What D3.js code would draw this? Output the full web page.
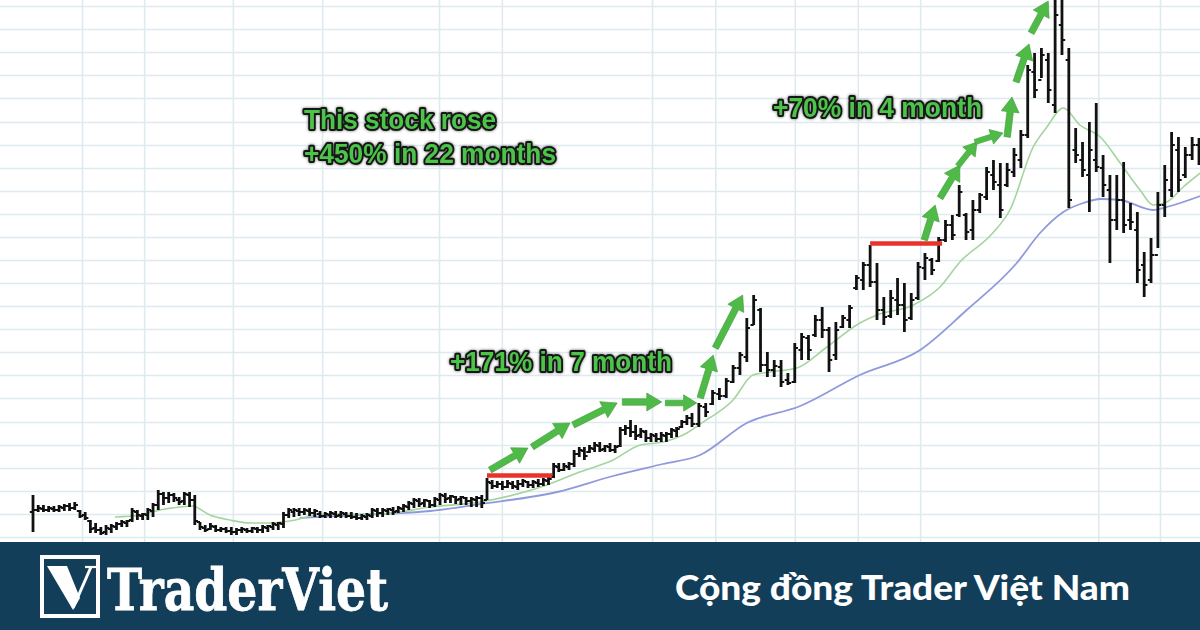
<!DOCTYPE html>
<html><head><meta charset="utf-8">
<script src="https://cdn.jsdelivr.net/npm/d3@7"></script>
<style>html,body{margin:0;padding:0;background:#fff;}svg{display:block}</style>
</head><body><svg id="c" width="1200" height="630"></svg>
<script>
// ---- DATA (weekly OHLC bars) ----
const highs = [14.5,13.5,13.5,13.4,13.4,13.5,13.6,13.7,13.8,13.0,12.8,12.0,11.7,11.3,11.5,11.6,11.8,12.0,12.0,13.2,
13.0,12.7,13.2,13.7,15.0,14.8,14.8,14.7,14.3,14.8,14.8,14.5,11.8,11.5,11.7,11.5,11.3,11.3,11.3,11.2,
11.3,11.2,11.3,11.3,11.5,11.5,11.8,11.8,12.8,13.2,13.2,13.2,13.2,13.2,13.1,12.9,12.8,12.9,12.9,12.9,
12.8,12.8,12.7,12.6,12.7,13.2,13.2,13.2,13.2,13.3,13.4,13.6,13.9,14.2,14.2,14.1,14.0,14.3,14.7,14.7,
14.5,14.4,14.4,14.3,14.3,14.4,14.5,16.2,16.0,15.9,15.9,16.0,15.9,16.0,16.1,15.9,16.0,16.1,16.2,16.3,
17.7,17.7,17.7,17.8,19.0,19.3,19.3,19.5,19.8,19.8,19.5,19.7,19.5,21.3,21.5,22.0,21.5,21.2,21.0,20.7,
20.7,20.8,20.8,21.2,21.3,22.0,22.5,22.7,23.7,23.7,25.0,25.2,26.2,27.5,28.8,32.2,34.5,33.2,28.8,28.0,
28.0,26.7,29.7,30.7,30.5,32.5,33.3,31.3,31.8,32.5,33.5,36.5,37.8,39.5,37.7,34.3,35.0,36.2,35.7,34.7,
37.8,38.7,38.2,40.3,42.0,42.5,45.5,42.7,44.0,44.7,47.3,48.0,47.7,47.7,49.2,51.0,57.5,58.7,59.2,58.7,
64.0,65.0,59.2,51.2,49.8,51.8,53.7,48.5,46.5,46.5,47.8,43.7,42.8,38.8,40.2,44.8,47.5,50.8,50.3,49.3,
50.3,50.2];
const lows = [10.8,12.8,12.8,12.8,12.8,12.8,12.9,12.9,13.0,12.2,12.0,10.7,10.7,10.5,10.5,10.7,11.0,11.3,11.3,11.8,
12.0,12.0,12.0,12.3,13.0,13.5,13.7,13.8,13.5,13.5,13.3,11.5,11.0,10.8,11.0,10.8,10.8,10.7,10.5,10.5,
10.7,10.7,10.7,10.7,10.7,10.8,11.0,11.0,11.2,12.2,12.3,12.4,12.5,12.4,12.3,12.2,12.2,12.2,12.2,12.2,
12.2,12.1,12.0,12.0,12.0,12.2,12.3,12.3,12.5,12.5,12.7,12.8,13.0,13.2,13.3,13.3,13.2,13.3,13.5,13.7,
13.7,13.6,13.5,13.5,13.3,13.3,13.2,14.0,15.1,15.2,15.0,15.2,15.1,15.0,15.3,15.2,15.2,15.3,15.4,15.5,
16.2,16.8,16.9,17.0,17.3,18.3,18.0,18.7,18.8,18.8,18.8,18.8,18.7,19.3,20.5,20.3,20.0,20.2,19.8,19.8,
19.8,19.8,19.8,20.2,20.3,21.2,21.5,21.3,21.3,22.3,23.5,24.0,24.2,25.7,26.5,27.8,31.5,26.8,26.3,26.3,
25.3,25.5,25.7,28.0,28.0,30.3,30.2,26.8,28.0,31.2,31.2,35.0,35.0,35.3,32.0,31.5,32.2,32.5,30.8,32.0,
34.0,36.0,36.5,37.8,39.8,40.0,42.3,40.0,40.0,42.7,44.0,45.0,42.2,45.3,46.3,47.2,50.2,54.2,56.2,53.7,
52.7,58.5,43.2,47.7,46.3,42.8,46.8,44.3,37.7,41.0,40.7,41.0,35.7,34.3,35.7,39.2,42.3,44.3,44.8,46.2,
48.0,47.5];
const opens = [12.8,13.0,13.1,13.0,13.1,13.0,13.2,13.4,13.2,12.9,12.5,11.9,11.2,11.0,10.8,11.1,11.3,11.6,11.7,12.0,
12.8,12.4,12.5,12.9,13.5,14.6,14.2,14.5,14.0,13.9,14.5,14.0,11.8,11.2,11.1,11.3,11.0,11.1,10.9,10.8,
11.0,11.0,10.9,11.1,11.0,11.2,11.3,11.5,11.6,12.5,12.8,12.9,12.8,12.9,12.7,12.6,12.4,12.5,12.6,12.5,
12.6,12.4,12.3,12.2,12.3,12.4,12.9,12.7,12.9,13.0,12.9,13.1,13.3,13.6,13.9,13.7,13.9,13.5,14.0,14.4,
14.2,14.3,14.1,14.2,13.9,14.0,14.2,14.0,15.7,15.4,15.6,15.3,15.6,15.3,15.6,15.8,15.5,15.7,15.6,15.9,
16.3,17.3,17.0,17.3,17.6,18.6,18.9,18.8,19.1,19.4,19.1,19.3,19.0,19.4,21.0,21.2,20.8,20.5,20.8,20.2,
20.4,20.1,20.4,20.6,20.9,21.3,21.8,22.2,21.6,23.3,23.6,24.6,24.4,25.8,27.2,28.3,31.5,33.0,27.5,27.0,
27.3,26.0,25.8,29.0,30.2,30.5,32.0,31.0,28.5,31.3,32.0,35.2,36.0,37.5,35.8,33.0,32.4,34.0,33.5,32.2,
34.2,37.2,38.0,37.9,40.0,41.5,42.5,42.5,41.0,43.0,44.3,46.5,45.5,45.5,46.8,48.0,50.5,56.8,56.0,58.0,
53.5,61.5,58.0,49.0,48.0,46.5,48.0,47.2,45.0,42.0,44.0,42.0,41.0,37.5,36.0,38.5,43.5,45.0,49.0,46.5,
48.5,49.5];
const closes = [13.0,13.2,13.0,13.2,13.0,13.3,13.4,13.2,13.5,12.4,12.2,11.1,11.0,10.7,11.2,11.4,11.6,11.8,11.9,12.9,
12.5,12.6,13.0,13.5,14.6,14.2,14.5,14.2,13.8,14.6,14.0,11.9,11.3,11.0,11.4,11.0,11.1,10.9,10.8,11.0,
11.1,10.9,11.2,11.0,11.3,11.4,11.6,11.7,12.5,13.0,13.0,12.8,13.0,12.7,12.9,12.4,12.6,12.7,12.4,12.7,
12.4,12.3,12.2,12.4,12.5,13.0,12.7,13.0,13.1,12.8,13.2,13.4,13.7,14.0,13.6,14.0,13.5,14.1,14.5,14.1,
14.4,14.0,14.3,13.9,14.1,14.2,13.7,15.8,15.4,15.6,15.3,15.7,15.4,15.6,15.9,15.5,15.8,15.6,16.0,16.1,
17.4,17.0,17.4,17.6,18.6,19.0,18.4,19.2,19.5,19.0,19.4,19.0,19.3,21.0,21.2,20.8,20.4,20.9,20.2,20.5,
20.1,20.5,20.6,21.0,21.1,21.8,22.2,21.6,23.4,22.8,24.7,24.4,25.9,27.2,28.5,31.2,34.0,27.5,27.0,27.4,
25.8,25.7,29.2,30.3,29.0,32.0,31.0,28.0,31.0,32.2,33.2,36.2,37.5,35.8,33.0,32.3,34.2,33.5,32.0,34.0,
37.3,38.2,37.0,40.0,41.5,40.5,44.8,40.8,43.0,44.5,46.8,45.8,43.0,47.0,48.5,50.5,57.0,55.0,58.5,55.0,
62.5,60.0,44.0,48.5,47.0,49.0,47.3,45.5,42.0,44.0,41.5,41.8,37.0,35.5,38.5,43.5,46.0,49.5,46.0,48.5,
49.5,48.5];

// moving averages: [bar index, price]
const fastMA = [[15.7,12.3],[20.5,12.5],[24.3,13.0],[28.2,13.3],[30.5,13.4],[33.9,12.5],[37.7,12.0],[41.6,11.7],
[45.4,11.7],[49.2,11.9],[55.6,12.6],[66.5,12.6],[76.1,13.3],[85.7,13.8],[98.7,15.5],[105.1,16.8],[111.6,18.0],
[116.9,19.5],[121.3,19.8],[126.0,20.7],[128.2,21.6],[133.0,24.0],[135.9,26.5],[138.4,26.8],[142.3,27.2],
[146.7,29.3],[151.5,31.7],[154.0,32.5],[159.3,33.5],[163.2,35.3],[166.1,37.8],[170.9,40.7],[173.4,43.0],
[176.8,49.3],[178.8,51.3],[181.2,53.2],[183.6,51.5],[186.6,50.3],[189.5,47.7],[192.4,45.0],[194.3,43.5],
[196.3,43.8],[198.7,45.3],[201.2,46.7]];
const slowMA = [[51.1,12.2],[66.5,12.6],[76.1,12.9],[85.7,13.6],[100.7,14.8],[111.6,16.4],[121.3,17.6],[128.2,18.5],
[135.0,21.7],[142.8,23.4],[151.5,26.5],[160.3,29.0],[167.1,33.0],[174.4,37.7],[177.8,40.7],[181.2,42.8],
[184.1,43.7],[186.6,44.1],[189.5,44.0],[194.3,43.0],[196.3,43.3],[201.2,44.4]];

// grid tick values
const gridPrices = [63.4,61.1,58.8,56.5,54.2,51.8,49.5,47.2,44.9,42.6,40.3,38.0,35.7,33.4,31.1,28.8,26.5,24.2,21.8,19.5,17.2,14.9,12.6,10.3];
const periodLines = [9.4,21.3,38.3,55.4,77.8,89.9,119.2,130.4,142.0,151.2,160.3,186.3,195.3];

// annotations: breakout levels [startIdx, endIdx, price]
const breakouts = [[87,99.7,16.45],[153,163.5,39.65]];
// arrows: [fromIdx, fromPrice, toIdx, toPrice]
const arrows = [[87.6,17.0,95.0,19.2],[95.8,19.3,103.2,21.7],[103.8,21.5,112.4,23.7],[113.4,23.8,121.1,23.8],
[121.8,23.7,127.7,23.7],[128.2,24.2,130.1,28.5],[130.4,29.2,134.4,34.5],[160.9,40.0,162.5,43.5],
[163.2,44.2,166.1,47.5],[165.8,47.4,168.6,49.8],[168.3,49.8,172.4,50.7],[173.0,50.3,173.7,54.3],
[174.3,55.8,176.2,59.6],[176.5,60.7,179.0,63.9]];
const labels = ["This stock rose","+450% in 22 months","+171% in 7 month","+70% in 4 month"];
const brand = "TraderViet";
const tagline = "Cộng đồng Trader Việt Nam";

// ---- DRAW ----
const W = 1200, H = 630, chartH = 542;
const svg = d3.select('#c');
const x = d3.scaleLinear().domain([0,87,127,201]).range([33,487,692,1199]);
const y = d3.scaleLinear().domain([10,64]).range([540,0]);

const defs = svg.append('defs');
defs.append('clipPath').attr('id','clip').append('rect').attr('width',W).attr('height',chartH);
const f = defs.append('filter').attr('id','glow').attr('x','-10%').attr('y','-30%').attr('width','120%').attr('height','160%');
f.append('feDropShadow').attr('dx',0).attr('dy',0).attr('stdDeviation',1.8).attr('flood-color','#000').attr('flood-opacity',0.6);

svg.append('rect').attr('width',W).attr('height',chartH).attr('fill','#fff');
const plot = svg.append('g').attr('clip-path','url(#clip)');

// grid via axes
const gy = plot.append('g').call(d3.axisRight(y).tickValues(gridPrices).tickSize(W).tickFormat(''));
const gx = plot.append('g').call(d3.axisBottom(x).tickValues(periodLines).tickSize(chartH).tickFormat(''));
[gy,gx].forEach(g=>{g.select('.domain').remove();g.selectAll('line').attr('stroke','#dfeaf0').attr('stroke-width',1.6);});

// moving averages
const line = d3.line().x(d=>x(d[0])).y(d=>y(d[1])).curve(d3.curveMonotoneX);
plot.append('path').datum(slowMA).attr('d',line).attr('fill','none').attr('stroke','#8f99dc').attr('stroke-width',1.8);
plot.append('path').datum(fastMA).attr('d',line).attr('fill','none').attr('stroke','#a3d59d').attr('stroke-width',1.6);

// OHLC bars
const idx = d3.range(highs.length);
const gb = plot.append('g').attr('stroke','#111');
gb.selectAll('line.hl').data(idx).join('line').attr('class','hl')
  .attr('x1',i=>x(i)).attr('x2',i=>x(i)).attr('y1',i=>y(highs[i])).attr('y2',i=>y(lows[i])).attr('stroke-width',2.8);
gb.selectAll('line.o').data(idx).join('line').attr('class','o')
  .attr('x1',i=>x(i)-3.2).attr('x2',i=>x(i)).attr('y1',i=>y(opens[i])).attr('y2',i=>y(opens[i])).attr('stroke-width',2);
gb.selectAll('line.c').data(idx).join('line').attr('class','c')
  .attr('x1',i=>x(i)).attr('x2',i=>x(i)+3.2).attr('y1',i=>y(closes[i])).attr('y2',i=>y(closes[i])).attr('stroke-width',2);

// breakout lines
plot.selectAll('line.bo').data(breakouts).join('line').attr('class','bo')
  .attr('x1',d=>x(d[0])).attr('x2',d=>x(d[1])).attr('y1',d=>y(d[2])).attr('y2',d=>y(d[2]))
  .attr('stroke','#e8322b').attr('stroke-width',4.5);

// arrows
function arrowPts(d){
  const x1=x(d[0]),y1=y(d[1]),x2=x(d[2]),y2=y(d[3]);
  const dx=x2-x1,dy=y2-y1,len=Math.hypot(dx,dy),ux=dx/len,uy=dy/len,px=-uy,py=ux;
  const hl=Math.min(15,len*0.42), hw=Math.min(18,len*0.52), s=Math.min(6.5,len*0.18);
  const bx=x2-ux*hl,by=y2-uy*hl;
  return [[x1+px*s/2,y1+py*s/2],[bx+px*s/2,by+py*s/2],[bx+px*hw/2,by+py*hw/2],[x2,y2],
          [bx-px*hw/2,by-py*hw/2],[bx-px*s/2,by-py*s/2],[x1-px*s/2,y1-py*s/2]].map(p=>p.join(',')).join(' ');
}
plot.selectAll('polygon.ar').data(arrows).join('polygon').attr('class','ar')
  .attr('points',arrowPts).attr('fill','#50ba48').attr('stroke','#3c9c36').attr('stroke-width',0.6).attr('stroke-linejoin','round');

// annotation labels
const labelPos = [[304,129,192],[304,163,252],[450,371,222],[773,117,209]];
svg.selectAll('text.lab').data(labels).join('text').attr('class','lab')
  .attr('x',(d,i)=>labelPos[i][0]).attr('y',(d,i)=>labelPos[i][1])
  .attr('textLength',(d,i)=>labelPos[i][2]).attr('lengthAdjust','spacingAndGlyphs')
  .attr('font-family','"Arial Rounded MT Bold","Liberation Sans",Arial,sans-serif').attr('font-weight','bold').attr('font-size',28)
  .attr('fill','#4cc448').attr('stroke','#151515').attr('stroke-width',4).attr('stroke-linejoin','round')
  .attr('paint-order','stroke').attr('filter','url(#glow)').text(d=>d);

// footer banner
svg.append('rect').attr('y',chartH).attr('width',W).attr('height',H-chartH).attr('fill','#123e5a');
const logo = svg.append('g');
logo.append('rect').attr('x',42).attr('y',557).attr('width',56).attr('height',59).attr('fill','none').attr('stroke','#fff').attr('stroke-width',4);
logo.append('polygon').attr('points','47,566 67,566 80,598 73,610').attr('fill','#fff');
logo.append('line').attr('x1',91).attr('y1',567).attr('x2',73).attr('y2',608).attr('stroke','#fff').attr('stroke-width',3);
logo.append('line').attr('x1',85).attr('y1',567).attr('x2',96).attr('y2',567).attr('stroke','#fff').attr('stroke-width',2.2);
svg.append('text').attr('x',107).attr('y',610).attr('font-family','"DejaVu Serif","Liberation Serif",serif').attr('font-weight','bold')
  .attr('font-size',57).attr('textLength',281).attr('lengthAdjust','spacingAndGlyphs').attr('fill','#fff')
  .attr('stroke','#fff').attr('stroke-width',0.8).text(brand);
svg.append('text').attr('x',675).attr('y',600).attr('font-family','Lato,"Open Sans",sans-serif').attr('font-weight',900)
  .attr('font-size',34).attr('textLength',455).attr('lengthAdjust','spacingAndGlyphs').attr('fill','#fff').text(tagline);
</script></body></html>
